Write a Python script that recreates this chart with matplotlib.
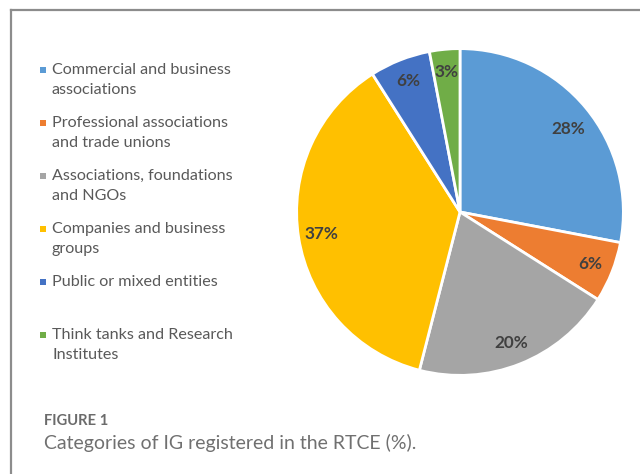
import matplotlib.pyplot as plt
from matplotlib.patches import Rectangle
from matplotlib.lines import Line2D

# Share of interest groups per category in the register (%)
categories = [
    "Commercial and business\nassociations",
    "Professional associations\nand trade unions",
    "Associations, foundations\nand NGOs",
    "Companies and business\ngroups",
    "Public or mixed entities",
    "Think tanks and Research\nInstitutes",
]
shares = [28, 6, 20, 37, 6, 3]
colors = ["#5B9BD5", "#ED7D31", "#A5A5A5", "#FFC000", "#4472C4", "#70AD47"]

W, H = 640, 474
fig = plt.figure(figsize=(W / 100, H / 100), dpi=100)

def fx(px):
    return px / W

def fy(py):
    return 1 - py / H

# open frame: top and left rules
fig.add_artist(Line2D([fx(11), 1], [fy(10), fy(10)], color="#8c8c8c", lw=1.6))
fig.add_artist(Line2D([fx(11), fx(11)], [fy(10), 0], color="#8c8c8c", lw=1.6))

# pie
cx, cy, r = 460, 212, 165
ax = fig.add_axes([fx(cx - r), fy(cy + r), 2 * r / W, 2 * r / H])
wedges, texts, autotexts = ax.pie(
    shares, colors=colors, startangle=90, counterclock=False,
    autopct="%d%%", pctdistance=0.86,
    wedgeprops=dict(edgecolor="white", linewidth=2),
    textprops=dict(color="#404040", fontsize=12.3, fontweight="bold", family="Lato"),
)
autotexts[0].set_position((0.66, 0.51))
ax.set_xlim(-1.01, 1.01)
ax.set_ylim(-1.01, 1.01)
ax.set_aspect("equal")
ax.axis("off")

# legend on the left
y0, step = 70, 53
for i, (lab, col) in enumerate(zip(categories, colors)):
    y = y0 + i * step
    fig.add_artist(Rectangle((fx(39.5), fy(y + 3)), 6 / W, 6 / H,
                             facecolor=col, edgecolor="none"))
    fig.text(fx(52), fy(y - 7), lab, ha="left", va="top", color="#595959",
             fontsize=11.6, family="Lato", linespacing=1.55)

# caption
fig.text(fx(44), fy(421), "FIGURE 1", ha="left", va="center", color="#6b6b6b",
         fontsize=10.6, fontweight="bold", family="Lato")
fig.text(fx(44), fy(443), "Categories of IG registered in the RTCE (%).",
         ha="left", va="center", color="#707070", fontsize=14,
         family="Lato")

fig.savefig("out.png", dpi=100)
